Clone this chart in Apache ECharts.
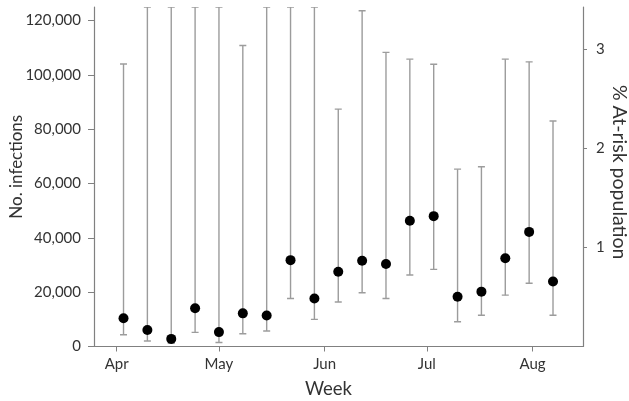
<!DOCTYPE html>
<html>
<head>
<meta charset="utf-8">
<script src="https://cdn.jsdelivr.net/npm/echarts@6/dist/echarts.min.js"></script>
<style>
  html, body { margin: 0; padding: 0; background: #ffffff; }
  #chart { width: 629px; height: 401px; }
</style>
</head>
<body>
<div id="chart"></div>
<script>
// Weekly estimates of infections with uncertainty ranges
const weeks = [
  '2009-04-03', '2009-04-10', '2009-04-17', '2009-04-24', '2009-05-01',
  '2009-05-08', '2009-05-15', '2009-05-22', '2009-05-29', '2009-06-05',
  '2009-06-12', '2009-06-19', '2009-06-26', '2009-07-03', '2009-07-10',
  '2009-07-17', '2009-07-24', '2009-07-31', '2009-08-07'
];
const infections = [
  10400, 6100, 2800, 14100, 5300, 12200, 11400, 31800, 17700, 27500,
  31600, 30400, 46300, 48000, 18300, 20200, 32500, 42200, 23900
];
const lowerBound = [
  4300, 2000, 1200, 5200, 1500, 4700, 5700, 17700, 10000, 16400,
  19800, 17700, 26300, 28400, 9100, 11500, 18900, 23300, 11500
];
const upperBound = [
  104000, 125000, 125000, 125000, 125000, 110800, 125000, 125000, 125000, 87400,
  123600, 108300, 105800, 103900, 65300, 66200, 105800, 104800, 83000
];
const monthTicks = ['2009-04-01', '2009-05-01', '2009-06-01', '2009-07-01', '2009-08-01'];
const monthNames = ['Jan', 'Feb', 'Mar', 'Apr', 'May', 'Jun', 'Jul', 'Aug', 'Sep', 'Oct', 'Nov', 'Dec'];
const leftTicks = [0, 20000, 40000, 60000, 80000, 100000, 120000];
const rightTicks = [1, 2, 3];

// The x axis counts days from the first month shown
const DAY = 86400000;
function toTime(s) {
  const p = s.split('-').map(Number);
  return Date.UTC(p[0], p[1] - 1, p[2]);
}
const origin = toTime(monthTicks[0]);
function toDay(s) { return (toTime(s) - origin) / DAY; }
const weekDays = weeks.map(toDay);
const monthDays = monthTicks.map(toDay);
function dayLabel(d) {
  const date = new Date(origin + Math.round(d) * DAY);
  return monthNames[date.getUTCMonth()];
}

const axisGray = '#808080';
const textGray = '#333333';
const font = 'Lato, "Open Sans", sans-serif';

const chart = echarts.init(document.getElementById('chart'), null, { renderer: 'canvas' });

function renderErrorBar(params, api) {
  const x = api.value(0);
  const lo = api.coord([x, api.value(1)]);
  const hi = api.coord([x, api.value(2)]);
  const half = 3.5;
  const style = { stroke: '#9c9c9c', lineWidth: 1.4 };
  return {
    type: 'group',
    children: [
      { type: 'line', shape: { x1: lo[0], y1: lo[1], x2: hi[0], y2: hi[1] }, style: style },
      { type: 'line', shape: { x1: lo[0] - half, y1: lo[1], x2: lo[0] + half, y2: lo[1] }, style: style },
      { type: 'line', shape: { x1: hi[0] - half, y1: hi[1], x2: hi[0] + half, y2: hi[1] }, style: style }
    ]
  };
}

chart.setOption({
  animation: false,
  backgroundColor: '#ffffff',
  grid: { left: 94, right: 46, top: 7, bottom: 54.5, containLabel: false, outerBoundsMode: 'none' },
  xAxis: {
    type: 'value',
    min: -6.66,
    max: 136.8,
    name: 'Week',
    nameLocation: 'middle',
    nameGap: 33,
    nameMoveOverlap: false,
    nameTextStyle: { fontFamily: font, fontSize: 18.5, color: textGray, padding: [0, 20, 0, 0] },
    axisLine: { show: true, onZero: false, lineStyle: { color: axisGray, width: 1.2 } },
    axisTick: { show: true, length: 5, lineStyle: { color: axisGray }, customValues: monthDays },
    axisLabel: {
      customValues: monthDays,
      margin: 10,
      fontFamily: font,
      fontSize: 15,
      color: textGray,
      formatter: dayLabel
    },
    splitLine: { show: false }
  },
  yAxis: [
    {
      type: 'value',
      min: 0,
      max: 125000,
      position: 'left',
      name: 'No. infections',
      nameLocation: 'middle',
      nameGap: 69,
      nameMoveOverlap: false,
      nameTextStyle: { fontFamily: font, fontSize: 17, color: textGray, padding: [0, 0, 0, 20] },
      axisLine: { show: true, onZero: false, lineStyle: { color: axisGray, width: 1.2 } },
      axisTick: { show: true, length: 6, lineStyle: { color: axisGray }, customValues: leftTicks },
      axisLabel: {
        customValues: leftTicks,
        margin: 13,
        fontFamily: font,
        fontSize: 15,
        color: textGray,
        formatter: function (v) { return Number(v).toLocaleString('en-US'); }
      },
      splitLine: { show: false }
    },
    {
      type: 'value',
      min: 0,
      max: 3.43,
      position: 'right',
      name: '% At-risk population',
      nameLocation: 'middle',
      nameGap: 26,
      nameRotate: -90,
      nameMoveOverlap: false,
      nameTextStyle: { fontFamily: font, fontSize: 19.5, color: textGray, padding: [0, 9, 0, 0] },
      axisLine: { show: true, onZero: false, lineStyle: { color: axisGray, width: 1.2 } },
      axisTick: { show: true, length: 4, lineStyle: { color: axisGray }, customValues: rightTicks },
      axisLabel: {
        customValues: rightTicks,
        margin: 13,
        fontFamily: font,
        fontSize: 15,
        color: textGray
      },
      splitLine: { show: false }
    }
  ],
  series: [
    {
      type: 'custom',
      name: 'Range',
      xAxisIndex: 0,
      yAxisIndex: 0,
      clip: true,
      renderItem: renderErrorBar,
      encode: { x: 0, y: [1, 2] },
      data: weekDays.map(function (d, i) { return [d, lowerBound[i], upperBound[i]]; }),
      z: 2
    },
    {
      type: 'scatter',
      name: 'No. infections',
      xAxisIndex: 0,
      yAxisIndex: 0,
      symbol: 'circle',
      symbolSize: 10,
      itemStyle: { color: '#000000', opacity: 1 },
      data: weekDays.map(function (d, i) { return [d, infections[i]]; }),
      z: 3
    }
  ]
});
</script>
</body>
</html>
